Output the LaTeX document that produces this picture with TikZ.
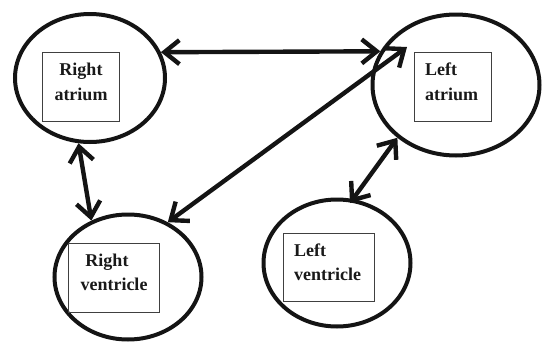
\documentclass[tikz,border=0pt]{standalone}
\usepackage{fontspec}
\setmainfont{Liberation Serif}
\usetikzlibrary{shapes.geometric,arrows.meta,calc}
\begin{document}
\begin{tikzpicture}[x=1pt,y=-1pt,
  chamber/.style={ellipse,draw=black!92,line width=4pt,inner sep=0pt},
  labelbox/.style={rectangle,draw=black!75,line width=1pt,inner sep=0pt,anchor=north west},
  lbl/.style={inner sep=0pt,font=\fontsize{18}{25}\selectfont\bfseries,text=black!90},
  link/.style={line width=4.4pt,draw=black!92,
    {Straight Barb[length=15pt,width=24pt,line width=4.4pt]}-{Straight Barb[length=15pt,width=24pt,line width=4.4pt]}}]
\useasboundingbox (0,0) rectangle (542,343);
% chambers
\node[chamber,minimum width=150pt,minimum height=128pt] (ra) at (90,78) {};
\node[chamber,minimum width=167pt,minimum height=141pt] (la) at (456,85) {};
\node[chamber,minimum width=147pt,minimum height=125pt] (rv) at (128,277) {};
\node[chamber,minimum width=147pt,minimum height=127pt] (lv) at (337,263) {};
% boxes
\node[labelbox,minimum width=77pt,minimum height=69pt] (rabox) at (42,52) {};
\node[labelbox,minimum width=77pt,minimum height=69pt] (labox) at (414,52) {};
\node[labelbox,minimum width=91pt,minimum height=69pt] (rvbox) at (68,243) {};
\node[labelbox,minimum width=91pt,minimum height=68pt] (lvbox) at (283,233) {};
% texts
\node[lbl,anchor=base] (ra1) at (81,75) {Right};
\node[lbl,anchor=base] (ra2) at (81,100) {atrium};
\node[lbl,anchor=base west] (la1) at (425,75) {Left};
\node[lbl,anchor=base west] (la2) at (425,100) {atrium};
\node[lbl,anchor=base] (rv1) at (107,266) {Right};
\node[lbl,anchor=base] (rv2) at (114,290) {ventricle};
\node[lbl,anchor=base west] (lv1) at (294,256) {Left};
\node[lbl,anchor=base west] (lv2) at (294,280) {ventricle};
% connectors
\coordinate (lain) at ($(la.center)+(-49,-38)$);
\coordinate (lvin) at ($(lv.center)+(13,-60)$);
\draw[link] (ra.20.5) -- (la.156.4);
\draw[link] (lain) -- (rv.54.5);
\draw[link] (ra.260) -- (rv.123);
\draw[link] (la.222) -- (lvin);
\end{tikzpicture}
\end{document}
